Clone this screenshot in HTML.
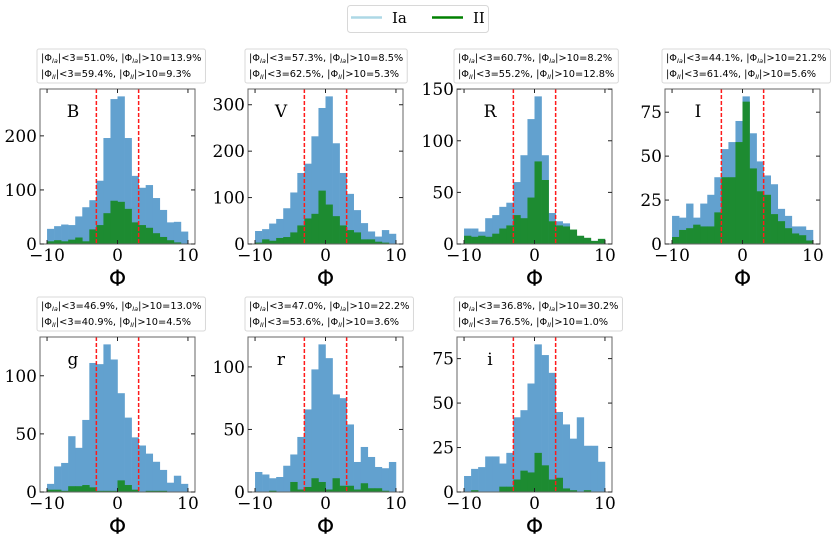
<!DOCTYPE html>
<html><head><meta charset="utf-8">
<style>
html,body{margin:0;padding:0;background:#fff;}
svg{display:block;}
</style></head>
<body>
<svg id="chart" width="831" height="545" xmlns="http://www.w3.org/2000/svg">
  <g>
    <rect x="347.5" y="5.5" width="141" height="27" rx="3" fill="#fff" stroke="#d8d8d8"/>
    <line x1="351" y1="17.5" x2="382" y2="17.5" stroke="#add8e6" stroke-width="2.5"/>
    <text x="392" y="23" font-family="'DejaVu Serif','Liberation Serif',serif" font-size="15" fill="#000">Ia</text>
    <line x1="432" y1="17.5" x2="463" y2="17.5" stroke="#008000" stroke-width="2.5"/>
    <text x="473" y="23" font-family="'DejaVu Serif','Liberation Serif',serif" font-size="15" fill="#000">II</text>
  </g>
</svg>
<script>
const bandNames = ["B","V","R","I","g","r","i"];
const binEdgesStart = -10;
const binWidth = 1;
const iaB = [28,33,36,35,51,68,81,117,196,268,273,196,126,104,109,85,63,40,41,23];
const iiB = [5,7,5,8,12,5,27,35,57,80,78,65,40,35,30,20,13,7,3,1];
const iaV = [28,32,44,54,77,111,153,173,232,293,318,217,153,108,73,45,27,16,30,22];
const iiV = [3,10,7,13,15,25,40,55,65,115,85,60,40,30,25,10,10,5,3,1];
const iaR = [15,15,12,25,28,36,40,60,86,121,143,86,30,22,20,9,7,4,3,2];
const iiR = [8,7,8,7,10,15,18,28,25,45,80,62,22,18,17,14,8,6,3,5];
const iaI = [16,15,23,15,23,28,38,54,58,70,84,63,47,39,34,20,16,10,10,8];
const iiI = [4,8,9,11,10,10,18,38,38,58,81,43,30,28,17,13,9,6,5,2];
const iag = [7,22,25,48,38,62,111,110,127,114,85,64,47,40,33,26,19,8,14,7];
const iig = [2,2,1,5,5,6,4,1,1,1,10,6,2,0,1,1,1,0,0,0];
const iar = [16,14,11,12,21,30,44,66,98,118,107,78,75,54,24,36,28,20,19,24];
const iir = [0,0,1,0,0,8,2,4,11,8,2,11,5,5,2,7,3,3,1,0];
const iai = [9,13,14,20,20,16,22,42,46,61,83,77,67,45,38,30,42,26,26,17];
const iii = [0,1,0,0,0,3,3,7,12,11,22,15,7,8,2,1,0,1,0,0];
const yTicksB = [0,100,200];
const yTicksV = [0,100,200,300];
const yTicksR = [0,50,100,150];
const yTicksI = [0,25,50,75];
const yTicksg = [0,50,100];
const yTicksr = [0,50,100];
const yTicksi = [0,25,50,75];
const xTicks = [-10,0,10];
const xTickLabels = ["\u221210","0","10"];
const cutLines = [-3,3];
const statsIa = [["51.0","13.9"],["57.3","8.5"],["60.7","8.2"],["44.1","21.2"],["46.9","13.0"],["47.0","22.2"],["36.8","30.2"]];
const statsII = [["59.4","9.3"],["62.5","5.3"],["55.2","12.8"],["61.4","5.6"],["40.9","4.5"],["53.6","3.6"],["76.5","1.0"]];

const iaSeries = [iaB,iaV,iaR,iaI,iag,iar,iai];
const iiSeries = [iiB,iiV,iiR,iiI,iig,iir,iii];
const yTickSets = [yTicksB,yTicksV,yTicksR,yTicksI,yTicksg,yTicksr,yTicksi];

const NS = "http://www.w3.org/2000/svg";
const svg = document.getElementById("chart");
const colLeft = [40,248,457,665];
const rowTop = [89,337];
const PW = 155, PH = 155;
const SERIF = "'DejaVu Serif','Liberation Serif',serif";
const SANS = "'DejaVu Sans','Liberation Sans',sans-serif";

function mk(tag, attrs, parent){
  const e = document.createElementNS(NS, tag);
  for (const k in attrs) e.setAttribute(k, attrs[k]);
  (parent||svg).appendChild(e);
  return e;
}

bandNames.forEach((band, p) => {
  const L = colLeft[p % 4], T = rowTop[Math.floor(p / 4)], B = T + PH, R = L + PW;
  const ia = iaSeries[p], ii = iiSeries[p];
  const ymax = Math.max(...ia) * 1.05;
  const xs = v => L + (v + 11) / 22 * PW;
  const ys = v => B - v / ymax * PH;
  const g = mk("g", {});
  
  

  ia.forEach((v, i) => {
    const x0 = xs(binEdgesStart + i * binWidth), x1 = xs(binEdgesStart + (i + 1) * binWidth);
    const r = mk("rect", {x: x0, y: ys(v), width: x1 - x0 + 0.3, height: B - ys(v), fill: "#62a1cf"}, g);
    
    
  });
  ii.forEach((v, i) => {
    if (v <= 0) return;
    const x0 = xs(binEdgesStart + i * binWidth), x1 = xs(binEdgesStart + (i + 1) * binWidth);
    const r = mk("rect", {x: x0, y: ys(v), width: x1 - x0 + 0.3, height: B - ys(v), fill: "#1d8b31"}, g);
    
    
  });
  cutLines.forEach(c => {
    const l = mk("line", {x1: xs(c), x2: xs(c), y1: T, y2: B, stroke: "#ff1a1a", "stroke-width": 1.5, "stroke-dasharray": "4,2"}, g);
    
    
  });
  const fr = mk("rect", {x: L, y: T, width: PW, height: PH, fill: "none", stroke: "#666", "stroke-width": 1}, g);
  
  
  xTicks.forEach((t, k) => {
    const x = xs(t);
    mk("line", {x1: x, x2: x, y1: B, y2: B - 4, stroke: "#222", "stroke-width": 1}, g);
    mk("line", {x1: x, x2: x, y1: T, y2: T + 4, stroke: "#222", "stroke-width": 1}, g);
    const tx = mk("text", {x: x, y: B + 17, "text-anchor": "middle", "font-family": SERIF, "font-size": 17, fill: "#000"}, g);
    tx.textContent = xTickLabels[k];
    
    
  });
  yTickSets[p].forEach(t => {
    const y = ys(t);
    mk("line", {x1: L, x2: L + 4, y1: y, y2: y, stroke: "#222", "stroke-width": 1}, g);
    mk("line", {x1: R, x2: R - 4, y1: y, y2: y, stroke: "#222", "stroke-width": 1}, g);
    const tx = mk("text", {x: L - 3, y: y + 6, "text-anchor": "end", "font-family": SERIF, "font-size": 17, fill: "#000"}, g);
    tx.textContent = t;
    
    
  });
  const xt = mk("text", {x: L + PW / 2, y: B + 42, "text-anchor": "middle", "font-family": SANS, "font-size": 22, fill: "#000"}, g);
  xt.textContent = "\u03A6";
  
  
  const bl = mk("text", {x: L + 33, y: T + 28, "text-anchor": "middle", "font-family": SERIF, "font-size": 17, fill: "#000"}, g);
  bl.textContent = band;
  
  
  const box = mk("rect", {x: L - 3, y: T - 40, width: 160, height: 34, rx: 2, fill: "#fff", stroke: "#d8d8d8", "stroke-width": 1}, g);
  
  
  const lines = [["Ia", statsIa[p]], ["II", statsII[p]]];
  let maxW = 0;
  lines.forEach((ln, k) => {
    const tx = mk("text", {x: L + 1, y: T - 28 + k * 16, "font-family": SANS, "font-size": 9.8, fill: "#000"}, g);
    
    
    const parts = [["|\u03A6", null], [ln[0], "sub"], ["|<3=" + ln[1][0] + "%, |\u03A6", null], [ln[0], "sub"], ["|>10=" + ln[1][1] + "%", null]];
    parts.forEach(pt => {
      const s = mk("tspan", {}, tx);
      s.textContent = pt[0];
      if (pt[1]) { s.setAttribute("font-size", "6.5"); s.setAttribute("font-style", "italic"); s.setAttribute("dy", "2"); }
      else if (tx.childNodes.length > 1) { s.setAttribute("dy", "-2"); }
    });
    try { maxW = Math.max(maxW, tx.getBBox().width); } catch (e) { maxW = 155; }
  });
  box.setAttribute("width", maxW + 8);
});
</script>
</body></html>
